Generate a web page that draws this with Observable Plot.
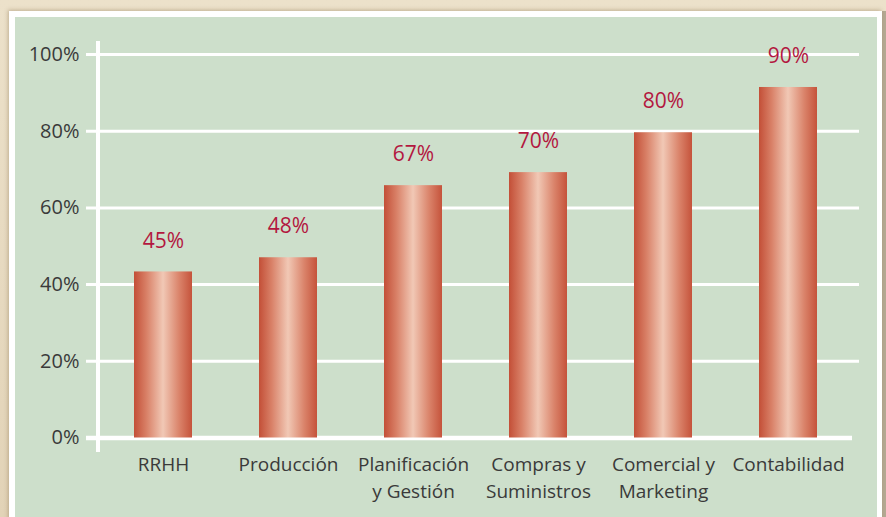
<!DOCTYPE html>
<html><head><meta charset="utf-8">
<script src="https://cdn.jsdelivr.net/npm/d3@7"></script>
<script src="https://cdn.jsdelivr.net/npm/@observablehq/plot@0.6"></script>
<style>
html,body{margin:0;padding:0;width:886px;height:517px;overflow:hidden;background:linear-gradient(#ece1ca,#e2d3b7);}
#panel{position:absolute;left:9px;top:11px;width:862px;height:530px;border:6px solid #fff;border-right-width:5px;background:#cddfcb;box-shadow:-1px -1px 4px rgba(140,115,80,.45),4px 0 0 #b5a993;}
#chart{position:absolute;left:0;top:0;}
</style></head><body><div id="panel"></div><div id="chart"></div>
<script>
const categories = ["RRHH", "Producción", "Planificación\ny Gestión", "Compras y\nSuministros", "Comercial y\nMarketing", "Contabilidad"];
const values = [0.433, 0.47, 0.658, 0.692, 0.796, 0.914];
const labels = ["45%", "48%", "67%", "70%", "80%", "90%"];
const yTicks = [0, 0.2, 0.4, 0.6, 0.8, 1];
const yTickLabels = ["0%", "20%", "40%", "60%", "80%", "100%"];

const data = categories.map((c, i) => ({category: c, value: values[i], label: labels[i]}));

const chrome = (index, scales, values, dims) => {
  const g = d3.create("svg:g");
  const grad = g.append("defs").append("linearGradient")
    .attr("id", "barGrad").attr("x1", "0").attr("x2", "1").attr("y1", "0").attr("y2", "0");
  [[0, "#c34f37"], [0.22, "#d98168"], [0.5, "#f1c8b5"], [0.78, "#da836a"], [1, "#c5533b"]]
    .forEach(([o, c]) => grad.append("stop").attr("offset", o).attr("stop-color", c));
  const y0 = scales.y(0), y1 = scales.y(1);
  g.append("line")
    .attr("x1", dims.marginLeft).attr("x2", dims.marginLeft)
    .attr("y1", y1 - 13).attr("y2", y0 + 14.5)
    .attr("stroke", "white").attr("stroke-width", 4);
  return g.node();
};

const chart = Plot.plot({
  width: 886,
  height: 517,
  marginLeft: 98,
  marginRight: 34,
  marginTop: 54,
  marginBottom: 79.5,
  style: {background: "transparent", fontFamily: "'Open Sans', sans-serif", overflow: "visible"},
  x: {domain: categories, range: [99, 851], paddingInner: 0.537, paddingOuter: 0.2685, label: null},
  y: {domain: [0, 1], label: null},
  marks: [
    Plot.ruleY(yTicks.slice(1), {stroke: "white", strokeWidth: 3, insetLeft: -12, insetRight: -7}),
    Plot.ruleY([0], {stroke: "white", strokeWidth: 4.5, insetLeft: -12}),
    chrome,
    Plot.barY(data, {x: "category", y: "value", fill: "url(#barGrad)"}),
    Plot.text(data, {x: "category", y: "value", text: "label", dy: -31, fill: "#b3173f", fontSize: 21}),
    Plot.axisY({ticks: yTicks, tickFormat: (d) => yTickLabels[yTicks.indexOf(d)], tickSize: 0, tickPadding: 19, fontSize: 20, color: "#3a3a3a", label: null}),
    Plot.axisX({tickSize: 0, tickPadding: 15, fontSize: 19, lineHeight: 1.37, color: "#3a3a3a", label: null})
  ]
});
document.getElementById("chart").appendChild(chart);
</script>
</body></html>
